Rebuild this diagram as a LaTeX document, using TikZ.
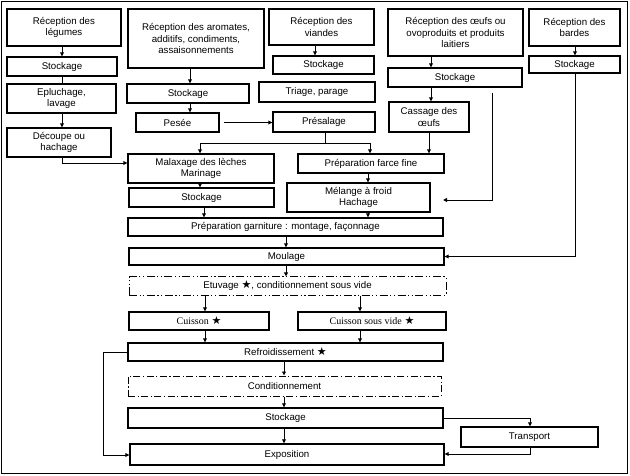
\documentclass[tikz,border=0pt]{standalone}
\usepackage{fontspec}
\setmainfont{Liberation Sans}
\newfontfamily\serifT{Liberation Serif}
\newfontfamily\symf{DejaVu Sans}
\usetikzlibrary{arrows.meta}
\newcommand{\etoile}{{\symf\bfseries\fontsize{11}{10}\selectfont ★}}
\tikzset{
  box/.style={draw, line width=1.3pt, inner sep=0pt, align=center,
    font=\fontsize{9.7}{11.8}\selectfont},
  dbox/.style={box, line width=1pt},
  ddot/.style={dash pattern=on 8pt off 2.5pt on 1.2pt off 2.5pt on 1.2pt off 2.5pt},
  dd/.style={dash pattern=on 7pt off 2.5pt on 1.2pt off 2.5pt},
  conn/.style={line width=0.9pt},
  arr/.style={conn, -{Triangle[length=4pt,width=3.8pt]}},
}
\newcommand{\bx}[7][box]{% style, name, x1,y1,x2,y2, text
  \node[#1, minimum width={(#5)-(#3)}, minimum height={(#6)-(#4)}] (#2) at ({((#3)+(#5))/2},{((#4)+(#6))/2}) {#7};}
\begin{document}
\begin{tikzpicture}[x=1pt,y=-1pt]
\useasboundingbox (0,0) rectangle (630,476);
\draw[line width=1.5pt] (1.5,1.5) rectangle (627.5,473.5);
% top row
\bx{rl}{7}{9}{121}{46}{Réception des\\légumes}
\bx{sl}{7}{57}{117}{76}{Stockage}
\bx{ep}{7}{84}{116}{113}{Epluchage,\\lavage}
\bx{dc}{7}{128}{111}{157}{Découpe ou\\hachage}
\bx{ra}{128}{9}{264}{68}{Réception des aromates,\\additifs, condiments,\\assaisonnements}
\bx{sa}{127}{84}{249}{103}{Stockage}
\bx{pe}{136}{113}{219}{132}{Pesée}
\bx{rv}{269}{9}{374}{45}{Réception des\\viandes}
\bx{sv}{273}{56}{374}{74}{Stockage}
\bx{tp}{259}{82}{375}{102}{Triage, parage}
\bx{ps}{273}{112}{375}{132}{Présalage}
\bx{ro}{388}{9}{523}{56}{Réception des œufs ou\\ovoproduits et produits\\laitiers}
\bx{so}{388}{68}{522}{87}{Stockage}
\bx{co}{389}{102}{469}{132}{Cassage des\\œufs}
\bx{rb}{529}{9}{620}{46}{Réception des\\bardes}
\bx{sb}{529}{56}{620}{73}{Stockage}
% middle
\bx{ma}{128}{154}{274}{183}{Malaxage des lèches\\Marinage}
\bx{sm}{129}{188}{274}{207}{Stockage}
\bx{pf}{298}{154}{444}{173}{Préparation farce fine}
\bx{mf}{287}{183}{430}{212}{Mélange à froid\\Hachage}
\bx{pg}{128}{218}{443}{236}{Préparation garniture : montage, façonnage}
\bx{mo}{129}{248}{444}{265}{Moulage}
\bx[dbox,ddot]{et}{129}{277}{446}{295}{Etuvage \etoile, conditionnement sous vide}
\bx{cu}{129}{312}{269}{330}{{\serifT\fontsize{10}{11}\selectfont Cuisson} \etoile}
\bx{cv}{298}{312}{446}{330}{{\serifT\fontsize{10}{11}\selectfont Cuisson sous vide} \etoile}
\bx{rf}{128}{343}{443}{361}{Refroidissement \etoile}
\bx[dbox,dd]{cd}{128}{376}{441}{396}{Conditionnement}
\bx{st}{128}{408}{443}{428}{Stockage}
\bx{ex}{130}{444}{444}{465}{Exposition}
\bx{tr}{461}{427}{598}{447}{Transport}
% helper coordinates
\coordinate (eggtop) at (492.5,93);
\coordinate (eggend) at (443,200);
% connectors: légumes
\draw[arr] (rl.south -| 62,0) -- (sl.north -| 62,0);
\draw[conn] (sl.south -| 62,0) -- (ep.north -| 62,0);
\draw[arr] (ep.south -| 62,0) -- (dc.north -| 62,0);
\draw[arr] (dc.south -| 62,0) |- (ma.west |- 0,163);
% aromates
\draw[arr] (ra.south -| 190,0) -- (sa.north -| 190,0);
\draw[arr] (sa.south -| 190,0) -- (pe.north -| 190,0);
\draw[arr, shorten <=4pt] (pe.east) -- (ps.west |- pe.east);
% viandes
\draw[arr] (rv.south -| 315,0) -- (sv.north -| 315,0);
\draw[conn] (ps.south -| 325,0) -- (325,143);
\draw[arr] (200,143) -- (ma.north -| 200,0);
\draw[arr] (200,143) -- (370,143) -- (pf.north -| 370,0);
% oeufs
\draw[arr] (ro.south -| 431,0) -- (so.north -| 431,0);
\draw[arr] (so.south -| 431,0) -- (co.north -| 431,0);
\draw[arr] (co.south -| 429,0) -- (pf.north -| 429,0);
\draw[arr] (eggtop) |- (eggend);
% bardes
\draw[arr] (rb.south -| 575,0) -- (sb.north -| 575,0);
\draw[arr] (sb.south -| 575,0) |- (mo.east);
% middle chain
\draw[arr] (ma.south -| 200,0) -- (sm.north -| 200,0);
\draw[arr] (sm.south -| 204,0) -- (pg.north -| 204,0);
\draw[arr] (pf.south -| 368,0) -- (mf.north -| 368,0);
\draw[arr] (mf.south -| 368,0) -- (pg.north -| 368,0);
\draw[arr] (pg.south -| 286,0) -- (mo.north -| 286,0);
\draw[arr] (mo.south -| 286,0) -- (et.north -| 286,0);
\draw[arr] (et.south -| 205,0) -- (cu.north -| 205,0);
\draw[arr] (et.south -| 360,0) -- (cv.north -| 360,0);
\draw[arr] (cu.south -| 205,0) -- (rf.north -| 205,0);
\draw[arr] (cv.south -| 360,0) -- (rf.north -| 360,0);
\draw[arr] (rf.south -| 284,0) -- (cd.north -| 284,0);
\draw[arr] (cd.south -| 284,0) -- (st.north -| 284,0);
\draw[arr] (st.south -| 284,0) -- (ex.north -| 284,0);
\draw[arr] (rf.west |- 0,352) -- (103,352) |- (ex.west |- 0,455);
\draw[arr] (st.east |- 0,418) -| (tr.north -| 530,0);
\draw[arr] (tr.south -| 530,0) |- (ex.east |- 0,454);
\end{tikzpicture}
\end{document}
